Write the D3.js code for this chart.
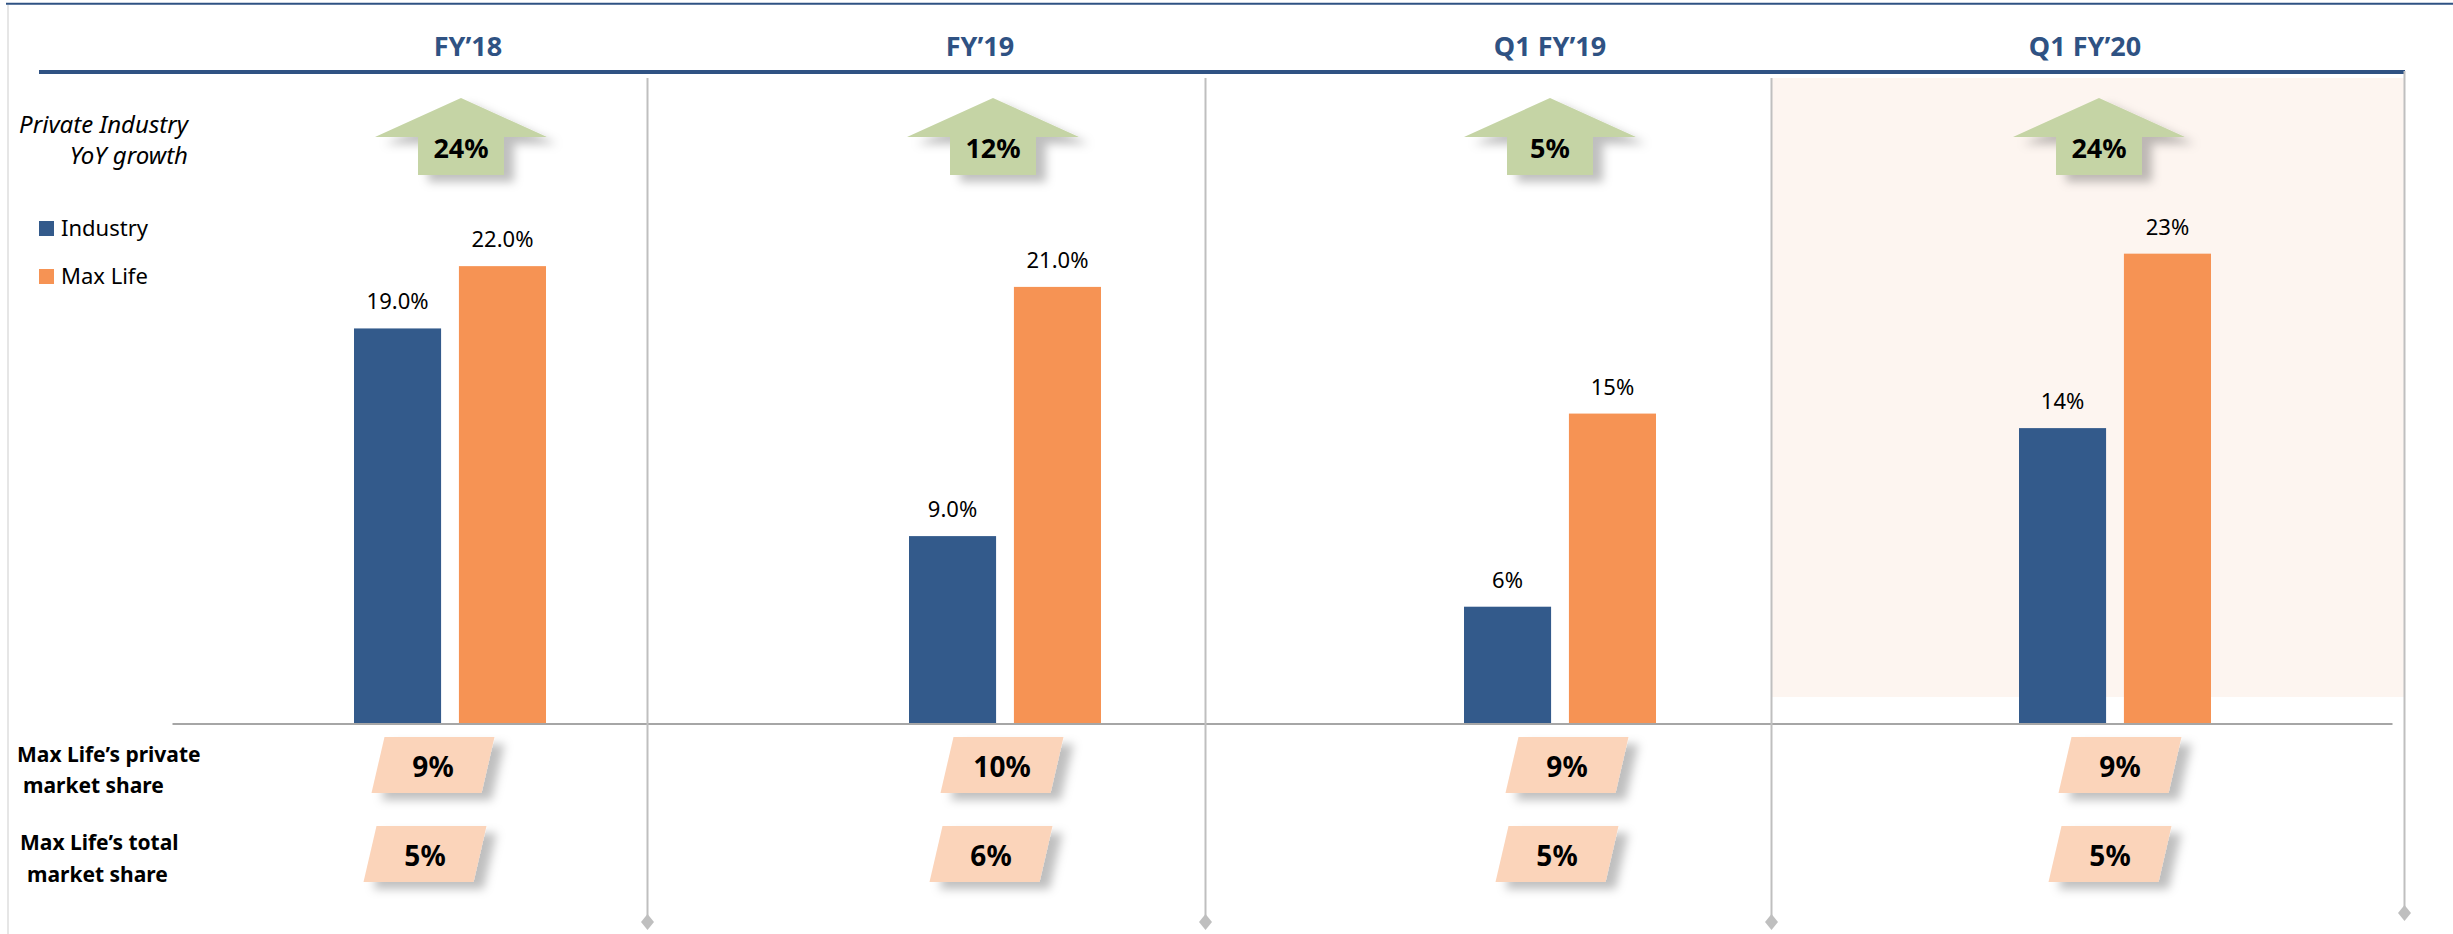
<!DOCTYPE html>
<html>
<head>
<meta charset="utf-8">
<script src="https://cdn.jsdelivr.net/npm/d3@7"></script>
<style>
  body { margin: 0; background: #fff; }
  svg { display: block; font-family: "Noto Sans", "Open Sans", sans-serif; }
</style>
</head>
<body>
<svg id="chart" width="2453" height="934"></svg>
<script>
// ---------------- DATA ----------------
const periods = ["FY’18", "FY’19", "Q1 FY’19", "Q1 FY’20"];
const seriesNames = ["Industry", "Max Life"];
const industryGrowth = [19.0, 9.0, 5.6, 14.2];
const maxLifeGrowth = [22.0, 21.0, 14.9, 22.6];
const labelDecimals = [1, 1, 0, 0];
const privateIndustryYoY = [24, 12, 5, 24];
const privateMarketShare = [9, 10, 9, 9];
const totalMarketShare = [5, 6, 5, 5];
const highlightedPeriod = "Q1 FY’20";

// ---------------- LAYOUT / STYLE ----------------
const W = 2453, H = 934;
const colors = { "Industry": "#335a8b", "Max Life": "#f69354" };
const navy = "#2f5283";
const headerNudge = [18, -25, -10, -30];     // header offset from group centre
const arrowNudge = [11, -12, -10, -16];      // arrow offset from group centre
const privBoxNudge = [-17, -3, 7, 5];
const totBoxNudge = [-25, -14, -3, -5];
const dividerNudge = [-80, -77, -66];

const svg = d3.select("#chart");
const defs = svg.append("defs");
const f = defs.append("filter").attr("id", "shadow")
  .attr("x", "-40%").attr("y", "-40%").attr("width", "190%").attr("height", "190%");
f.append("feDropShadow").attr("dx", 10).attr("dy", 7).attr("stdDeviation", 5)
  .attr("flood-color", "#000").attr("flood-opacity", 0.25);

svg.append("rect").attr("width", W).attr("height", H).attr("fill", "#fff");

// scales
const x = d3.scaleBand().domain(periods).range([172.5, 2392.5]).padding(0);
const sub = d3.scaleBand().domain(seriesNames).range([0, 192]).paddingInner(0.17);
const y = d3.scaleLinear().domain([0, 30]).range([723, 100]);
const centre = p => x(p) + x.bandwidth() / 2;

// divider positions
const dividers = periods.slice(1).map((p, i) => x(p) + dividerNudge[i]);
const lastDivider = x.range()[1] + 12;
const hiIdx = periods.indexOf(highlightedPeriod);

// highlight background
svg.append("rect")
  .attr("x", dividers[hiIdx - 1])
  .attr("y", 78)
  .attr("width", lastDivider - dividers[hiIdx - 1])
  .attr("height", 697 - 78)
  .attr("fill", "#fdf5f0");

// top line + left border
svg.append("line").attr("x1", 6).attr("x2", W).attr("y1", 3.7).attr("y2", 3.7)
  .attr("stroke", navy).attr("stroke-width", 2);
svg.append("line").attr("x1", 8).attr("x2", 8).attr("y1", 5).attr("y2", H)
  .attr("stroke", "#e6e6e6").attr("stroke-width", 2);

// header underline
svg.append("line").attr("x1", 39).attr("x2", 2405).attr("y1", 72).attr("y2", 72)
  .attr("stroke", navy).attr("stroke-width", 4);

// baseline
svg.append("line").attr("x1", x.range()[0]).attr("x2", x.range()[1])
  .attr("y1", y(0) + 1).attr("y2", y(0) + 1)
  .attr("stroke", "#a6a6a6").attr("stroke-width", 2);

// dividers with diamond ends
const divData = dividers.map(d => ({ x: d, top: 78, bottom: 922 }))
  .concat([{ x: lastDivider, top: 71, bottom: 913 }]);
svg.selectAll(".divider").data(divData).join("line")
  .attr("class", "divider")
  .attr("x1", d => d.x).attr("x2", d => d.x)
  .attr("y1", d => d.top).attr("y2", d => d.bottom - 6)
  .attr("stroke", "#bfbfbf").attr("stroke-width", 2);
svg.selectAll(".diamond").data(divData).join("path")
  .attr("class", "diamond")
  .attr("d", d => `M${d.x},${d.bottom - 8}L${d.x + 6.5},${d.bottom}L${d.x},${d.bottom + 8}L${d.x - 6.5},${d.bottom}Z`)
  .attr("fill", "#bfbfbf");

// headers
svg.selectAll(".header").data(periods).join("text")
  .attr("class", "header")
  .attr("x", (p, i) => centre(p) + headerNudge[i])
  .attr("y", 56)
  .attr("text-anchor", "middle")
  .attr("font-size", 27).attr("font-weight", 700)
  .attr("fill", navy)
  .text(p => p);

// YoY growth arrows
const arrowG = svg.selectAll(".arrow").data(periods).join("g")
  .attr("class", "arrow")
  .attr("transform", (p, i) => `translate(${centre(p) + arrowNudge[i]},0)`);
arrowG.append("path")
  .attr("d", "M0,98L86,137L43,137L43,175L-43,175L-43,137L-86,137Z")
  .attr("fill", "#c5d4a5")
  .attr("filter", "url(#shadow)");
arrowG.append("text")
  .attr("y", 158).attr("text-anchor", "middle")
  .attr("font-size", 27).attr("font-weight", 700).attr("fill", "#000")
  .text((p, i) => privateIndustryYoY[i] + "%");

// left labels
const leftLbl = svg.append("g").attr("font-size", 24).attr("font-style", "italic").attr("fill", "#000");
leftLbl.append("text").attr("x", 188).attr("y", 133).attr("text-anchor", "end").text("Private Industry");
leftLbl.append("text").attr("x", 188).attr("y", 164).attr("text-anchor", "end").text("YoY growth");

// legend
const legend = svg.selectAll(".legend").data(seriesNames).join("g")
  .attr("class", "legend")
  .attr("transform", (s, i) => `translate(39,${221 + i * 48})`);
legend.append("rect").attr("width", 15).attr("height", 15).attr("fill", s => colors[s]);
legend.append("text").attr("x", 22).attr("y", 15).attr("font-size", 22).attr("fill", "#000").text(s => s);

// bars
const barData = [];
periods.forEach((p, i) => {
  barData.push({ period: p, series: "Industry", value: industryGrowth[i], dec: labelDecimals[i] });
  barData.push({ period: p, series: "Max Life", value: maxLifeGrowth[i], dec: labelDecimals[i] });
});
const bx = d => centre(d.period) - 96 + sub(d.series);
svg.selectAll(".bar").data(barData).join("rect")
  .attr("class", "bar")
  .attr("x", bx)
  .attr("y", d => y(d.value))
  .attr("width", sub.bandwidth())
  .attr("height", d => y(0) - y(d.value))
  .attr("fill", d => colors[d.series]);
svg.selectAll(".barlabel").data(barData).join("text")
  .attr("class", "barlabel")
  .attr("x", d => bx(d) + sub.bandwidth() / 2)
  .attr("y", d => y(d.value) - 19)
  .attr("text-anchor", "middle")
  .attr("font-size", 22).attr("fill", "#000")
  .text(d => d3.format(`.${d.dec}f`)(d.value) + "%");

// bottom row labels
const botLbl = svg.append("g").attr("font-size", 21).attr("font-weight", 700).attr("fill", "#000");
botLbl.append("text").attr("x", 17).attr("y", 762).text("Max Life’s private");
botLbl.append("text").attr("x", 23).attr("y", 793).text("market share");
botLbl.append("text").attr("x", 20).attr("y", 850).text("Max Life’s total");
botLbl.append("text").attr("x", 27).attr("y", 882).text("market share");

// parallelogram boxes
function boxes(values, nudges, top, cls) {
  const h = 56, w = 110, slant = 13;
  const g = svg.selectAll("." + cls).data(periods).join("g")
    .attr("class", cls)
    .attr("transform", (p, i) => `translate(${centre(p) + nudges[i]},${top})`);
  g.append("path")
    .attr("d", `M${-w / 2 + slant / 2},0L${w / 2 + slant / 2},0L${w / 2 - slant / 2},${h}L${-w / 2 - slant / 2},${h}Z`)
    .attr("fill", "#fbd4ba")
    .attr("filter", "url(#shadow)");
  g.append("text")
    .attr("y", 40).attr("text-anchor", "middle")
    .attr("font-size", 28).attr("font-weight", 700).attr("fill", "#000")
    .text((p, i) => values[i] + "%");
}
boxes(privateMarketShare, privBoxNudge, 737, "pbox");
boxes(totalMarketShare, totBoxNudge, 826, "tbox");
</script>
</body>
</html>
